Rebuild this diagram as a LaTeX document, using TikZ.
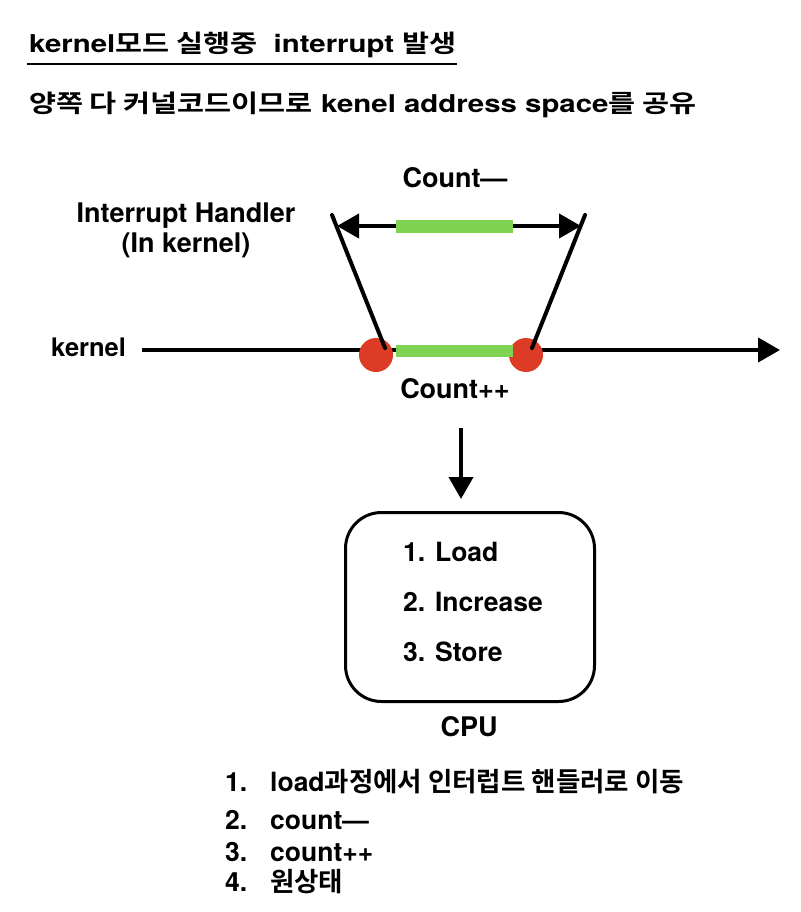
\documentclass[tikz,border=0pt]{standalone}
\usepackage{fontspec}
\setmainfont{TeX Gyre Heros}
\newfontfamily\kr{Noto Sans CJK KR}[BoldFont={* Bold}]
\newfontfamily\wide{TeX Gyre Heros}[FakeStretch=1.2]
\newfontfamily\krwide{Noto Sans CJK KR}[BoldFont={* Bold},FakeStretch=1.2]
\usetikzlibrary{arrows.meta}
\definecolor{grn}{RGB}{126,211,83}
\definecolor{rd}{RGB}{220,59,38}
\tikzset{
  head/.style={font=\wide\bfseries\fontsize{24.5}{28}\selectfont, inner sep=0pt, anchor=base west},
  txt/.style={font=\bfseries\fontsize{26.5}{30}\selectfont, inner sep=0pt, anchor=base west},
  ctxt/.style={font=\bfseries\fontsize{27}{31}\selectfont, inner sep=0pt, anchor=base},
  thick line/.style={line width=4pt},
  bar/.style={draw=grn, line width=12pt},
  dot/.style={circle, fill=rd, minimum size=34pt, inner sep=0pt},
  tip/.style={-{Triangle[length=22pt,width=24pt]}},
}
\begin{document}
\begin{tikzpicture}[x=1pt,y=-1pt]
\useasboundingbox[fill=white] (0,0) rectangle (800,912);
% titles
\node[head] (t1) at (29,53) {kernel{\krwide\bfseries 모드 실행중}\ \ interrupt {\krwide\bfseries 발생}};
\coordinate (u1) at (27,64);
\coordinate (u2) at (457,64);
\draw[line width=2.5pt] (u1) -- (u2);
\node[head] (t2) at (29,113) {{\krwide\bfseries 양쪽 다 커널코드이므로} kenel address space{\krwide\bfseries 를 공유}};
% labels
\node[ctxt] (cm) at (455,187) {Count—};
\node[ctxt] (ih1) at (186,222) {Interrupt Handler};
\node[ctxt] (ih2) at (186,252) {(In kernel)};
\node[txt, font=\bfseries\fontsize{25.5}{30}\selectfont] (kl) at (51,356) {kernel};
\node[ctxt] (cp) at (455,398) {Count++};
% kernel line
\coordinate (k0) at (142,350);
\coordinate (k1) at (780,350);
\draw[thick line, tip] (k0) -- (k1);
% handler
\coordinate (a0) at (332,215);
\coordinate (a1) at (385,348);
\coordinate (b0) at (585,215);
\coordinate (b1) at (532,348);
\coordinate (h0) at (337,226);
\coordinate (h1) at (581,226);
\draw[thick line, {Triangle[length=22pt,width=24pt]}-{Triangle[length=22pt,width=24pt]}] (h0) -- (h1);
\coordinate (g0) at (396,226);
\coordinate (g1) at (513,226);
\draw[bar, line width=13pt] (g0) -- (g1);
\node[dot] (d1) at (376,355) {};
\node[dot] (d2) at (526,355) {};
\coordinate (g2) at (396,351);
\coordinate (g3) at (513,351);
\draw[bar] (g2) -- (g3);
\draw[thick line, line cap=round] (a0) -- (a1);
\draw[thick line, line cap=round] (b0) -- (b1);
% down arrow
\coordinate (v0) at (461,428);
\coordinate (v1) at (461,499);
\draw[thick line, tip] (v0) -- (v1);
% CPU box
\node[draw, line width=3pt, rounded corners=36pt, minimum width=249pt, minimum height=189pt] (cpu) at (470,607) {};
\node[txt] (s1) at (403,561) {1. Load};
\node[txt] (s2) at (403,611) {2. Increase};
\node[txt] (s3) at (403,661) {3. Store};
\node[ctxt] (cl) at (469,736) {CPU};
% list
\node[txt] (n1) at (225,791) {1.};
\node[txt] (l1) at (270,791) {load{\kr\bfseries 과정에서 인터럽트 핸들러로 이동}};
\node[txt] (n2) at (225,829) {2.};
\node[txt] (l2) at (270,829) {count—};
\node[txt] (n3) at (225,861) {3.};
\node[txt] (l3) at (270,861) {count++};
\node[txt] (n4) at (225,891) {4.};
\node[txt] (l4) at (270,891) {{\kr\bfseries 원상태}};
\end{tikzpicture}
\end{document}
